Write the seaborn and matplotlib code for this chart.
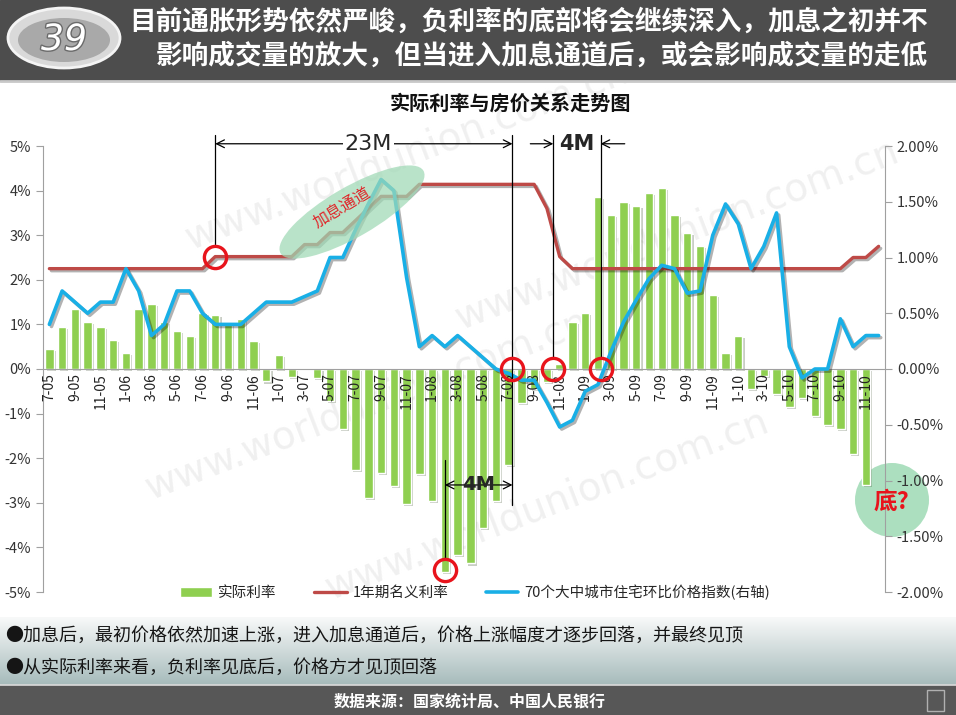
import numpy as np
import pandas as pd
import matplotlib
matplotlib.use('Agg')
import matplotlib.pyplot as plt
import matplotlib.patheffects as pe
from matplotlib.patches import Ellipse, Rectangle, Circle, Patch
from matplotlib.lines import Line2D
from matplotlib.colors import LinearSegmentedColormap
import seaborn as sns

# months 7-05 ... 12-10
months = []
for yy in range(5, 11):
    for mm in range(1, 13):
        if yy == 5 and mm < 7:
            continue
        months.append(f"{mm}-{yy:02d}")

# 实际利率 (%), left axis; 12-10 not yet published
real_rate = [0.45, 0.95, 1.35, 1.05, 0.95, 0.65, 0.35, 1.35, 1.45, 1.05, 0.85, 0.75,
             1.25, 1.22, 1.02, 1.12, 0.62, -0.28, 0.32, -0.18, 0.0, -0.21, -0.72, -1.34,
             -2.27, -2.90, -2.33, -2.63, -3.03, -2.36, -2.96, -4.56, -4.16, -4.36, -3.56, -2.96,
             -2.16, -0.76, -0.45, -0.30, 0.12, 1.05, 1.25, 3.85, 3.45, 3.75, 3.65, 3.95,
             4.05, 3.45, 3.05, 2.75, 1.65, 0.35, 0.75, -0.45, -0.15, -0.55, -0.85, -0.65,
             -1.05, -1.25, -1.35, -1.90, -2.60, np.nan]

# 1年期名义利率 (%), left axis
nominal_rate = [2.25, 2.25, 2.25, 2.25, 2.25, 2.25, 2.25, 2.25, 2.25, 2.25, 2.25, 2.25,
                2.25, 2.52, 2.52, 2.52, 2.52, 2.52, 2.52, 2.52, 2.79, 2.79, 3.06, 3.06,
                3.33, 3.60, 3.87, 3.87, 3.87, 4.14, 4.14, 4.14, 4.14, 4.14, 4.14, 4.14,
                4.14, 4.14, 4.14, 3.60, 2.52, 2.25, 2.25, 2.25, 2.25, 2.25, 2.25, 2.25,
                2.25, 2.25, 2.25, 2.25, 2.25, 2.25, 2.25, 2.25, 2.25, 2.25, 2.25, 2.25,
                2.25, 2.25, 2.25, 2.50, 2.50, 2.75]

# 70个大中城市住宅环比价格指数 (%), right axis
house_mom = [0.40, 0.70, 0.60, 0.50, 0.60, 0.60, 0.90, 0.70, 0.30, 0.40, 0.70, 0.70,
             0.50, 0.40, 0.40, 0.40, 0.50, 0.60, 0.60, 0.60, 0.65, 0.70, 1.00, 1.00,
             1.25, 1.48, 1.70, 1.60, 0.82, 0.20, 0.30, 0.20, 0.30, 0.20, 0.10, 0.00,
             -0.04, -0.10, -0.10, -0.30, -0.52, -0.46, -0.20, -0.14, 0.15, 0.42, 0.62, 0.81,
             0.93, 0.90, 0.68, 0.70, 1.20, 1.48, 1.30, 0.90, 1.10, 1.40, 0.20, -0.08,
             0.00, 0.00, 0.45, 0.20, 0.30, 0.30]

legend_labels = ['实际利率', '1年期名义利率', '70个大中城市住宅环比价格指数(右轴)']
title = '实际利率与房价关系走势图'
headline = ['目前通胀形势依然严峻，负利率的底部将会继续深入，加息之初并不',
            '影响成交量的放大，但当进入加息通道后，或会影响成交量的走低']
notes = ['●加息后，最初价格依然加速上涨，进入加息通道后，价格上涨幅度才逐步回落，并最终见顶',
         '●从实际利率来看，负利率见底后，价格方才见顶回落']
source = '数据来源：国家统计局、中国人民银行'

GREEN = '#8fcf50'
RED = '#be4a47'
BLUE = '#19afe6'
MARK = '#e8141c'

sns.set_style('white')
plt.rcParams['font.family'] = ['Noto Sans CJK SC', 'DejaVu Sans']
plt.rcParams['axes.unicode_minus'] = False

W, H = 956, 715
fig = plt.figure(figsize=(W / 100, H / 100), dpi=100)
fig.patch.set_facecolor('white')

# ---- background layer in pixel coords
bg = fig.add_axes([0, 0, 1, 1], zorder=0)
grad = LinearSegmentedColormap.from_list('g', ['#f8f9f9', '#a6bbbb'])
bg.imshow(np.linspace(0, 1, 100).reshape(-1, 1), extent=(0, W, 685, 617),
          cmap=grad, aspect='auto', zorder=1)
# faint watermarks
for (x0, y0) in [(190, 250), (150, 500), (460, 330), (330, 600)]:
    bg.text(x0, y0, 'www.worldunion.com.cn', fontsize=28, color='#f0f0f0', rotation=21,
            rotation_mode='anchor', ha='left', va='baseline', family='DejaVu Sans', zorder=2)
bg.add_patch(Rectangle((0, 0), W, 80, color='#4d4d4d', zorder=3))
bg.plot([0, W], [81, 81], color='#c8c8c8', lw=2, zorder=3)
bg.add_patch(Ellipse((64, 38), 112, 60, fc='#d9d9d9', ec='#f4f4f4', lw=2, zorder=4))
bg.add_patch(Ellipse((64, 40), 92, 44, fc='#a9a9a9', ec='none', zorder=4))
bg.text(64, 40, '39', fontsize=26, color='white', style='italic', ha='center', va='center',
        family='DejaVu Sans', zorder=5,
        path_effects=[pe.withStroke(linewidth=2, foreground='#6a6a6a')])
for k, line in enumerate(headline):
    bg.text(928, 22 + 34 * k, line, color='white', fontsize=19.2, fontweight='bold',
            ha='right', va='center', zorder=5)
bg.text(510, 103, title, fontsize=14.5, fontweight='bold', ha='center', va='center', color='#111')
for k, line in enumerate(notes):
    bg.text(5, 636 + 32 * k, line, fontsize=13, color='#151515', ha='left', va='center', zorder=3)
bg.add_patch(Rectangle((0, 685), W, 30, color='#575757', zorder=3))
bg.plot([0, W], [685, 685], color='#dcdcdc', lw=1.2, zorder=4)
bg.text(470, 701, source, color='white', fontsize=11.5, fontweight='bold', ha='center',
        va='center', zorder=5)
bg.add_patch(Rectangle((927, 690), 17, 21, fc='none', ec='#b0b0b0', lw=1, zorder=5))
# green "bottom?" disc sits behind the chart
bg.add_patch(Circle((892, 500), 37, fc='#a3dcb8', ec='none', alpha=0.9, zorder=3))
bg.set_xlim(0, W)
bg.set_ylim(H, 0)
bg.axis('off')

# ---- main chart
ax = fig.add_axes([43 / W, 1 - 592 / H, 842 / W, 446 / H], zorder=2)
ax.patch.set_alpha(0)
df = pd.DataFrame({'month': months, 'real': real_rate})
sns.barplot(data=df, x='month', y='real', order=months, color=GREEN, saturation=1,
            width=0.66, errorbar=None, ax=ax)
for bar in ax.patches:
    bar.set_zorder(1)
    bar.set_path_effects([pe.SimplePatchShadow(offset=(1.5, -1.5), alpha=0.25), pe.Normal()])

xs = np.arange(len(months))
sns.lineplot(x=xs, y=nominal_rate, ax=ax, color=RED, lw=2.4, zorder=3,
             path_effects=[pe.SimpleLineShadow(offset=(1.5, -1.5), alpha=0.3), pe.Normal()])

ax2 = ax.twinx()
sns.lineplot(x=xs, y=house_mom, ax=ax2, color=BLUE, lw=2.6,
             path_effects=[pe.SimpleLineShadow(offset=(1.5, -1.5), alpha=0.3), pe.Normal()])

ax.set_xlim(-0.5, len(months) - 0.5)
ax.set_ylim(-5, 5)
ax2.set_ylim(-2, 2)
ax.set_yticks(range(-5, 6))
ax.set_yticklabels([f'{v}%' for v in range(-5, 6)])
r_ticks = np.arange(-2, 2.01, 0.5)
ax2.set_yticks(r_ticks)
ax2.set_yticklabels([f'{v:.2f}%' for v in r_ticks])
ax.set_xticks(xs[::2])
ax.set_xticklabels(months[::2])
ax.set_xticks(np.arange(-0.5, len(months), 1), minor=True)
ax.set_xlabel('')
ax.set_ylabel('')
ax2.set_ylabel('')

axis_c = '#a0a0a0'
ax.set_axisbelow(False)
ax.xaxis.set_zorder(5)
ax.spines['bottom'].set_position(('data', 0))
ax.spines['bottom'].set_color(axis_c)
ax.spines['bottom'].set_zorder(5)
ax.spines['left'].set_color(axis_c)
for s in ['top', 'right']:
    ax.spines[s].set_visible(False)
for s in ['top', 'left', 'bottom']:
    ax2.spines[s].set_visible(False)
ax2.spines['right'].set_color(axis_c)
ax.tick_params(axis='x', which='major', length=0, pad=3, labelrotation=90, labelsize=10,
               labelcolor='#222')
ax.tick_params(axis='x', which='minor', length=4, color=axis_c, direction='out')
ax.tick_params(axis='y', length=5, color=axis_c, direction='out', labelsize=10.5,
               labelcolor='#333', left=True)
ax2.tick_params(axis='y', length=5, color=axis_c, direction='out', labelsize=10.5,
                labelcolor='#333', right=True)
for lab in ax.get_xticklabels():
    lab.set_rotation(90)
    lab.set_va('top')
    lab.set_ha('center')

handles = [Patch(fc=GREEN), Line2D([], [], color=RED, lw=2.4), Line2D([], [], color=BLUE, lw=2.6)]
fig.legend(handles, legend_labels, loc='center', bbox_to_anchor=(475 / W, 1 - 592 / H), ncol=3,
           frameon=False, fontsize=10.5, handlelength=2.2, handletextpad=0.4, columnspacing=2.6)

# ---- annotations
ov = fig.add_axes([0, 0, 1, 1], zorder=5)
ov.set_xlim(0, W)
ov.set_ylim(H, 0)
ov.axis('off')
ov.patch.set_alpha(0)
T = ax.transData

ov.add_patch(Ellipse((352, 212), 165, 50, angle=-30, fc='#9fd9b5', ec='none', alpha=0.72))
ov.text(342, 208, '加息通道', color='#e0262a', fontsize=11.5, rotation=31, ha='center', va='center')
ov.text(891, 502, '底?', color=MARK, fontsize=17, fontweight='bold', ha='center', va='center')

vlines = [(13, 2.80, 5.25), (36.3, -3.05, 5.25), (39.5, 0.28, 5.25), (43.2, 0.28, 5.25),
          (31, -4.25, -2.05)]
for x, y0, y1 in vlines:
    ov.plot([x, x], [y0, y1], color='k', lw=0.9, transform=T, clip_on=False)

arrow = dict(color='k', lw=0.9, shrinkA=0, shrinkB=0, mutation_scale=14)
ov.annotate('', xy=(13, 5.05), xytext=(36.3, 5.05), xycoords=T, textcoords=T,
            arrowprops=dict(arrowstyle='<->', **arrow))
ov.text(25.0, 5.05, '23M', transform=T, fontsize=16, ha='center', va='center', family='DejaVu Sans',
        bbox=dict(fc='white', ec='none', pad=1.5))
ov.annotate('', xy=(39.5, 5.05), xytext=(37.7, 5.05), xycoords=T, textcoords=T,
            arrowprops=dict(arrowstyle='->', **arrow))
ov.annotate('', xy=(43.2, 5.05), xytext=(45.1, 5.05), xycoords=T, textcoords=T,
            arrowprops=dict(arrowstyle='->', **arrow))
ov.text(41.35, 5.05, '4M', transform=T, fontsize=15, fontweight='bold', ha='center', va='center',
        family='DejaVu Sans')
ov.annotate('', xy=(31, -2.6), xytext=(36.3, -2.6), xycoords=T, textcoords=T,
            arrowprops=dict(arrowstyle='<->', **arrow))
ov.text(33.65, -2.6, '4M', transform=T, fontsize=14, fontweight='bold', ha='center', va='center',
        family='DejaVu Sans')

circles_x = [13, 36.3, 39.5, 43.2, 31]
circles_y = [nominal_rate[13], 0, 0, 0, real_rate[31] + 0.05]
ov.plot(circles_x, circles_y, 'o', transform=T, ms=16, mfc='none', mec=MARK, mew=2.4,
        clip_on=False)

fig.savefig('out.png', dpi=100)
